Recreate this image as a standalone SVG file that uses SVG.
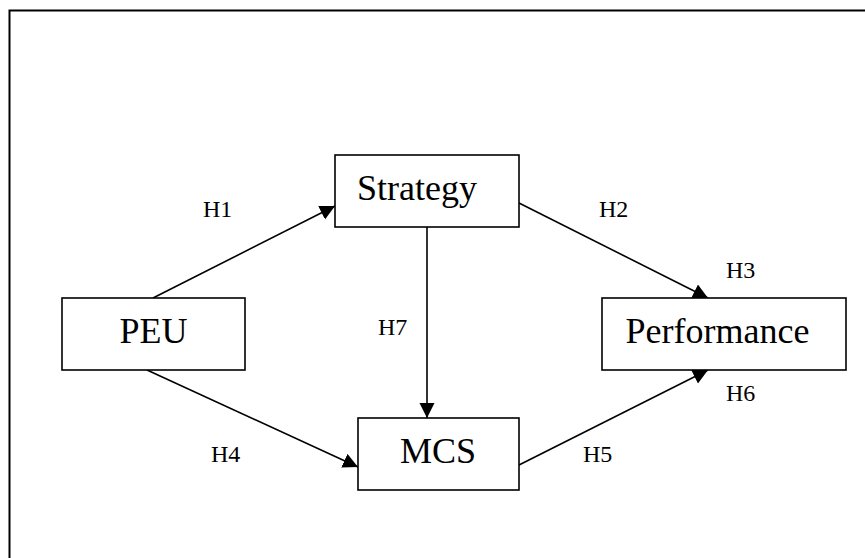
<svg xmlns="http://www.w3.org/2000/svg" width="865" height="558" viewBox="0 0 865 558">
  <style>
    .frame { fill: none; stroke: #000; stroke-width: 2; }
    .box { fill: #fff; stroke: #000; stroke-width: 1.6; }
    .name { font-family: "Liberation Serif", "Times New Roman", serif; font-size: 36px; fill: #000; text-anchor: middle; }
    .hyp { font-family: "Liberation Serif", "Times New Roman", serif; font-size: 24px; fill: #000; }
    .link { fill: none; stroke: #000; stroke-width: 1.6; marker-end: url(#head); }
  </style>
  <defs>
    <marker id="head" markerUnits="userSpaceOnUse" markerWidth="16" markerHeight="16" refX="15" refY="7.5" orient="auto">
      <path d="M0,0 L15,7.5 L0,15 Z" fill="#000"/>
    </marker>
  </defs>

  <rect width="865" height="558" fill="#fff"/>
  <!-- outer frame (right and bottom edges run past the canvas) -->
  <rect class="frame" x="9.5" y="10.5" width="880" height="580"/>

  <g id="connectors">
    <line class="link" x1="153" y1="298" x2="335" y2="206"/>
    <line class="link" x1="519" y1="203" x2="708" y2="298"/>
    <line class="link" x1="427" y1="227" x2="427" y2="418"/>
    <line class="link" x1="147" y1="370" x2="358" y2="467"/>
    <line class="link" x1="519" y1="465" x2="708" y2="370"/>
  </g>

  <g id="labels">
    <text class="hyp" x="203" y="217">H1</text>
    <text class="hyp" x="599" y="217">H2</text>
    <text class="hyp" x="726" y="278">H3</text>
    <text class="hyp" x="378" y="335">H7</text>
    <text class="hyp" x="211" y="462">H4</text>
    <text class="hyp" x="583" y="462">H5</text>
    <text class="hyp" x="726" y="401">H6</text>
  </g>

  <g id="strategy">
    <rect class="box" x="335" y="155" width="184" height="72"/>
    <text class="name" x="417" y="200">Strategy</text>
  </g>
  <g id="peu">
    <rect class="box" x="62" y="298" width="183" height="72"/>
    <text class="name" x="153.5" y="343">PEU</text>
  </g>
  <g id="mcs">
    <rect class="box" x="358" y="418" width="161" height="72"/>
    <text class="name" x="438" y="463">MCS</text>
  </g>
  <g id="performance">
    <rect class="box" x="602" y="298" width="244" height="72"/>
    <text class="name" x="717.5" y="343">Performance</text>
  </g>
</svg>
